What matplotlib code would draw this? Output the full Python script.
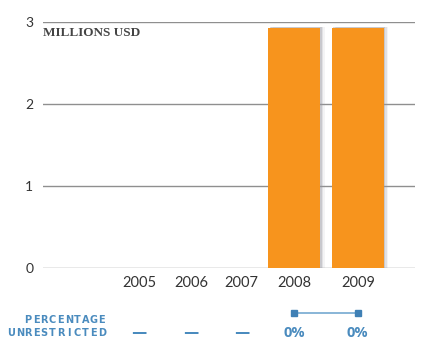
import numpy as np
import matplotlib.pyplot as plt
import matplotlib.transforms as mtransforms
from matplotlib.patches import Rectangle

years = ['2005', '2006', '2007', '2008', '2009']
values = [0, 0, 0, 2.93, 2.93]
unrestricted = ['—', '—', '—', '0%', '0%']
# x slots (in bar-width units) as laid out in the original
x_pos = [1.85, 2.85, 3.82, 4.83, 6.05]

orange = '#F7941D'
blue = '#4A8BBE'
W, H = 428, 343

fig = plt.figure(figsize=(4.28, 3.43), dpi=100)
ax = fig.add_axes([43/W, 75/H, 372/W, 246/H])
ax.set_xlim(0, 7.15)
ax.set_ylim(0, 3)

for v in [0, 1, 2, 3]:
    ax.axhline(v, color='#8f8f8f', lw=1.0, zorder=1)

# bars with a soft shadow on the right
for x, v in zip(x_pos, values):
    if v > 0:
        for k, a in enumerate([0.35, 0.2, 0.1]):
            ax.add_patch(Rectangle((x - 0.5 + 0.03 + k*0.03, 0), 1.0, v + 0.01,
                                   color='#9a9aa2', alpha=a, lw=0, zorder=2))
ax.bar(x_pos, values, width=1.0, color=orange, zorder=3)

for s in ax.spines.values():
    s.set_visible(False)
ax.set_yticks([0, 1, 2, 3])
ax.set_yticklabels(['0', '1', '2', '3'], family='Lato', fontsize=10, color='#333333')
ax.tick_params(axis='y', length=0, pad=7)
ax.tick_params(axis='x', length=0, pad=6)
ax.set_xticks(x_pos)
ax.set_xticklabels(years, family='Lato', fontsize=10.5, color='#333333')

ax.text(0.0, 2.86, 'MILLIONS USD', family='Liberation Serif', fontsize=9.5,
        fontweight='bold', color='#444444', va='center', ha='left')

# percentage unrestricted row, letter-spaced
def tracked(word, right, y, pitch=8.2):
    n = len(word)
    for i, ch in enumerate(word):
        cx = right - (n - 1 - i) * pitch - 3.3
        fig.text(cx / W, 1 - y / H, ch, ha='center', va='center',
                 fontsize=7, fontweight='bold', color=blue)

tracked('PERCENTAGE', 105, 320)
tracked('UNRESTRICTED', 105, 333)

trans = mtransforms.blended_transform_factory(ax.transData, fig.transFigure)
for x, t in zip(x_pos, unrestricted):
    if t == '—':
        ax.text(x, 1 - 332/H, t, transform=trans, ha='center', va='center',
                fontsize=11, fontweight='bold', color=blue, family='DejaVu Sans')
    else:
        ax.text(x, 1 - 333/H, t, transform=trans, ha='center', va='center',
                fontsize=10.5, fontweight='bold', color=blue, family='Open Sans')

ax.plot([x_pos[3], x_pos[4]], [1 - 313/H] * 2, transform=trans, color='#7fb0d4',
        lw=1.3, clip_on=False)
ax.plot([x_pos[3], x_pos[4]], [1 - 313/H] * 2, transform=trans, ls='none',
        marker='s', ms=5, color='#3f80b5', clip_on=False)

fig.savefig('out.png', dpi=100)
